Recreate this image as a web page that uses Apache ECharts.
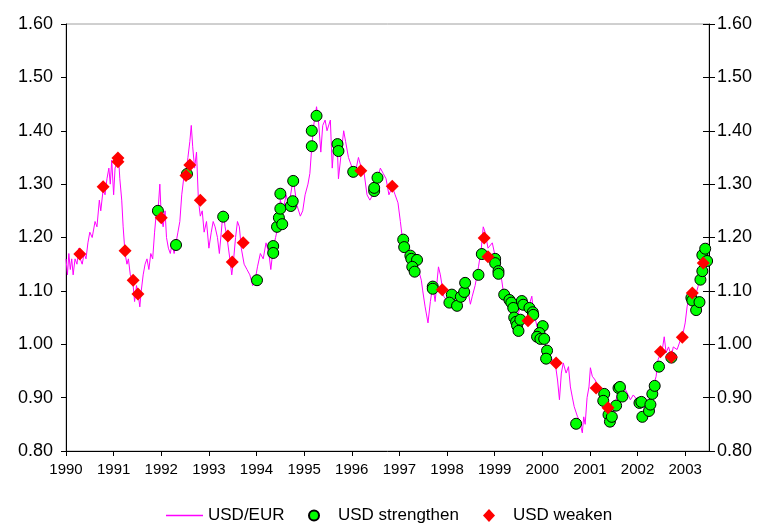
<!DOCTYPE html>
<html>
<head>
<meta charset="utf-8">
<script src="https://cdn.jsdelivr.net/npm/echarts@6/dist/echarts.min.js"></script>
<style>
html,body{margin:0;padding:0;background:#fff;}
#c{width:767px;height:525px;}
</style>
</head>
<body>
<div id="c"></div>
<script>
// USD/EUR exchange rate: [year, rate]
var usdEur = [
[1990.00,1.16],[1990.03,1.13],[1990.06,1.17],[1990.09,1.14],[1990.12,1.16],[1990.15,1.13],[1990.19,1.16],[1990.23,1.15],
[1990.27,1.18],[1990.30,1.16],[1990.34,1.15],[1990.38,1.17],[1990.42,1.16],[1990.46,1.19],[1990.50,1.21],[1990.55,1.20],
[1990.61,1.23],[1990.65,1.22],[1990.70,1.27],[1990.73,1.25],[1990.78,1.29],[1990.82,1.28],[1990.86,1.31],[1990.90,1.33],
[1990.93,1.30],[1990.96,1.345],[1991.00,1.28],[1991.03,1.33],[1991.07,1.34],[1991.10,1.355],[1991.13,1.31],[1991.17,1.27],
[1991.20,1.22],[1991.24,1.17],[1991.28,1.15],[1991.31,1.16],[1991.35,1.13],[1991.40,1.12],[1991.44,1.08],[1991.48,1.11],
[1991.52,1.09],[1991.55,1.07],[1991.58,1.10],[1991.62,1.13],[1991.66,1.15],[1991.70,1.16],[1991.74,1.14],[1991.78,1.17],
[1991.82,1.16],[1991.86,1.21],[1991.90,1.25],[1991.94,1.26],[1991.97,1.30],[1992.00,1.24],[1992.04,1.22],[1992.08,1.25],
[1992.11,1.20],[1992.15,1.18],[1992.19,1.17],[1992.23,1.19],[1992.27,1.17],[1992.31,1.19],[1992.35,1.21],[1992.39,1.23],
[1992.43,1.28],[1992.47,1.31],[1992.52,1.32],[1992.56,1.35],[1992.60,1.38],[1992.63,1.41],[1992.66,1.37],[1992.70,1.33],
[1992.74,1.36],[1992.78,1.27],[1992.82,1.24],[1992.86,1.25],[1992.90,1.21],[1992.95,1.23],[1993.00,1.18],[1993.05,1.21],
[1993.09,1.23],[1993.13,1.22],[1993.18,1.20],[1993.22,1.17],[1993.26,1.21],[1993.30,1.25],[1993.34,1.22],[1993.38,1.20],
[1993.44,1.16],[1993.48,1.13],[1993.52,1.16],[1993.56,1.20],[1993.60,1.23],[1993.64,1.22],[1993.68,1.18],[1993.74,1.15],
[1993.80,1.14],[1993.86,1.13],[1993.92,1.11],[1993.97,1.12],[1994.02,1.145],[1994.08,1.17],[1994.14,1.16],[1994.20,1.19],
[1994.26,1.17],[1994.30,1.14],[1994.35,1.18],[1994.40,1.20],[1994.45,1.22],[1994.50,1.27],[1994.56,1.25],[1994.62,1.28],
[1994.68,1.26],[1994.77,1.31],[1994.85,1.26],[1994.92,1.24],[1994.97,1.25],[1995.02,1.28],[1995.08,1.30],[1995.12,1.32],
[1995.16,1.37],[1995.20,1.41],[1995.26,1.445],[1995.30,1.42],[1995.35,1.36],[1995.39,1.41],[1995.44,1.42],[1995.48,1.40],
[1995.55,1.42],[1995.59,1.33],[1995.63,1.38],[1995.70,1.36],[1995.72,1.31],[1995.78,1.36],[1995.83,1.40],[1995.87,1.38],
[1995.93,1.35],[1996.01,1.33],[1996.07,1.32],[1996.14,1.35],[1996.20,1.33],[1996.26,1.32],[1996.32,1.28],[1996.38,1.27],
[1996.44,1.28],[1996.49,1.295],[1996.54,1.31],[1996.60,1.33],[1996.66,1.32],[1996.72,1.31],[1996.78,1.28],[1996.85,1.295],
[1996.91,1.28],[1996.97,1.265],[1997.02,1.23],[1997.06,1.20],[1997.12,1.18],[1997.19,1.17],[1997.28,1.16],[1997.34,1.15],
[1997.40,1.14],[1997.46,1.12],[1997.49,1.10],[1997.54,1.07],[1997.60,1.04],[1997.65,1.08],[1997.70,1.11],[1997.75,1.08],
[1997.82,1.145],[1997.86,1.13],[1997.93,1.09],[1998.01,1.08],[1998.09,1.10],[1998.15,1.09],[1998.24,1.08],[1998.30,1.09],
[1998.36,1.10],[1998.45,1.095],[1998.49,1.075],[1998.53,1.09],[1998.59,1.11],[1998.66,1.145],[1998.72,1.18],[1998.76,1.22],
[1998.80,1.21],[1998.86,1.18],[1998.95,1.19],[1999.01,1.165],[1999.08,1.14],[1999.14,1.125],[1999.18,1.10],[1999.26,1.09],
[1999.33,1.077],[1999.39,1.06],[1999.47,1.05],[1999.54,1.07],[1999.60,1.077],[1999.68,1.06],[1999.78,1.09],[1999.81,1.064],
[1999.89,1.033],[1999.96,1.021],[2000.02,1.018],[2000.08,0.995],[2000.13,0.984],[2000.21,0.971],[2000.27,0.965],[2000.32,0.933],
[2000.36,0.896],[2000.40,0.946],[2000.44,0.965],[2000.50,0.946],[2000.55,0.958],[2000.59,0.92],[2000.63,0.901],[2000.67,0.883],
[2000.74,0.864],[2000.78,0.858],[2000.84,0.834],[2000.87,0.864],[2000.90,0.85],[2000.94,0.90],[2000.98,0.92],[2001.01,0.956],
[2001.05,0.94],[2001.11,0.933],[2001.17,0.92],[2001.22,0.909],[2001.28,0.901],[2001.36,0.877],[2001.43,0.864],[2001.49,0.846],
[2001.55,0.896],[2001.60,0.915],[2001.68,0.927],[2001.72,0.929],[2001.78,0.909],[2001.85,0.896],[2001.91,0.905],[2001.99,0.896],
[2002.06,0.89],[2002.12,0.883],[2002.20,0.872],[2002.27,0.89],[2002.33,0.92],[2002.39,0.94],[2002.43,0.971],[2002.52,0.99],
[2002.56,1.014],[2002.60,0.984],[2002.65,0.995],[2002.71,0.977],[2002.75,0.995],[2002.83,0.99],[2002.90,1.008],[2002.94,1.014],
[2003.00,1.04],[2003.04,1.07],[2003.08,1.089],[2003.15,1.096],[2003.21,1.089],[2003.27,1.108],[2003.32,1.134],[2003.36,1.158],
[2003.40,1.182],[2003.46,1.19],[2003.49,1.177]
];

// USD strengthen events
var usdStrengthen = [
[1991.93,1.25],[1992.31,1.186],[1992.54,1.319],[1993.30,1.239],[1994.01,1.12],
[1994.35,1.184],[1994.35,1.171],[1994.43,1.22],[1994.47,1.237],[1994.54,1.225],[1994.50,1.254],[1994.50,1.282],
[1994.72,1.259],[1994.76,1.268],[1994.77,1.306],[1995.16,1.371],[1995.16,1.40],[1995.26,1.428],[1995.70,1.375],
[1995.72,1.362],[1996.03,1.323],[1996.47,1.287],[1996.47,1.293],[1996.54,1.312],[1997.08,1.196],[1997.10,1.182],
[1997.23,1.166],[1997.25,1.16],[1997.37,1.158],[1997.27,1.145],[1997.32,1.136],[1997.70,1.108],[1997.70,1.104],
[1998.10,1.093],[1998.05,1.078],[1998.21,1.072],[1998.29,1.089],[1998.36,1.098],[1998.38,1.115],[1998.66,1.13],
[1998.73,1.169],[1999.01,1.16],[1999.01,1.152],[1999.08,1.137],[1999.08,1.132],[1999.20,1.093],[1999.31,1.083],
[1999.35,1.078],[1999.39,1.068],[1999.57,1.081],[1999.60,1.074],[1999.73,1.068],[1999.80,1.06],[1999.81,1.055],
[1999.41,1.05],[1999.45,1.042],[1999.47,1.035],[1999.50,1.025],[1999.54,1.046],[2000.01,1.034],[1999.94,1.021],
[1999.89,1.014],[1999.96,1.01],[2000.04,1.01],[2000.10,0.988],[2000.08,0.973],[2000.71,0.851],[2001.30,0.907],
[2001.28,0.894],[2001.39,0.868],[2001.42,0.855],[2001.46,0.864],[2001.55,0.885],[2001.60,0.918],[2001.63,0.92],
[2001.68,0.902],[2002.04,0.89],[2002.08,0.892],[2002.10,0.864],[2002.24,0.875],[2002.27,0.887],[2002.31,0.907],
[2002.36,0.922],[2002.45,0.958],[2002.71,0.975],[2003.13,1.087],[2003.15,1.082],[2003.23,1.064],[2003.30,1.079],
[2003.32,1.121],[2003.36,1.137],[2003.36,1.167],[2003.42,1.179],[2003.46,1.156]
];

// USD weaken events
var usdWeaken = [
[1990.29,1.169],[1990.78,1.295],[1991.09,1.349],[1991.09,1.342],[1991.24,1.175],[1991.41,1.12],[1991.51,1.094],
[1992.00,1.237],[1992.52,1.316],[1992.60,1.336],[1992.82,1.27],[1993.40,1.203],[1993.49,1.154],[1993.72,1.19],
[1996.19,1.325],[1996.85,1.296],[1997.90,1.102],[1998.78,1.199],[1998.86,1.164],[1999.70,1.044],[2000.29,0.965],
[2001.13,0.918],[2001.38,0.881],[2002.48,0.986],[2002.71,0.976],[2002.94,1.013],[2003.15,1.096],[2003.38,1.152]
];

var seriesNames = ['USD/EUR','USD strengthen','USD weaken'];
var yearStart = 1990, yearEnd = 2003.5;
var yMin = 0.8, yMax = 1.6, yStep = 0.1;

var FONT = 'Liberation Sans, Arial, sans-serif';
var chart = echarts.init(document.getElementById('c'), null, {renderer:'canvas'});
var yLab = {fontFamily:FONT, fontSize:18, color:'#000', formatter:function(v){return v.toFixed(2);}};
var legText = {fontFamily:FONT, fontSize:17, color:'#000'};
chart.setOption({
  animation:false,
  backgroundColor:'#fff',
  textStyle:{fontFamily:FONT},
  grid:{left:66, right:58, top:24, bottom:74, show:true, borderColor:'#a0a0a0', borderWidth:1, backgroundColor:'transparent'},
  legend:[
    {data:[{name:seriesNames[0], icon:'rect'}], left:161, top:502, itemWidth:37, itemHeight:1.5, textStyle:legText},
    {data:[{name:seriesNames[1], icon:'circle'}], left:303, top:502, itemWidth:10, itemHeight:10,
      textStyle:Object.assign({padding:[0,0,0,14]}, legText)},
    {data:[{name:seriesNames[2], icon:'diamond'}], left:478, top:502, itemWidth:12, itemHeight:13,
      textStyle:Object.assign({padding:[0,0,0,13]}, legText)}
  ],
  xAxis:{type:'value', min:yearStart, max:yearEnd, interval:1,
    axisLine:{show:true, lineStyle:{color:'#000', width:1}},
    axisTick:{show:true, length:5, lineStyle:{color:'#000'}},
    splitLine:{show:false},
    axisLabel:{fontFamily:FONT, fontSize:15, color:'#000', margin:11, showMaxLabel:false,
      formatter:function(v){return Math.abs(v-Math.round(v))<1e-6 ? String(Math.round(v)) : '';}}
  },
  yAxis:[
    {type:'value', min:yMin, max:yMax, interval:yStep, position:'left',
      axisLine:{show:true, lineStyle:{color:'#000'}}, axisTick:{show:true, length:5, lineStyle:{color:'#000'}},
      splitLine:{show:false}, axisLabel:Object.assign({margin:13}, yLab)},
    {type:'value', min:yMin, max:yMax, interval:yStep, position:'right',
      axisLine:{show:true, lineStyle:{color:'#000'}}, axisTick:{show:true, length:6, lineStyle:{color:'#000'}},
      splitLine:{show:false}, axisLabel:Object.assign({margin:8}, yLab)},
    {type:'value', min:yMin, max:yMax, interval:yStep, position:'right',
      axisLine:{show:false}, axisTick:{show:true, inside:true, length:6, lineStyle:{color:'#000'}},
      splitLine:{show:false}, axisLabel:{show:false}}
  ],
  series:[
    {name:seriesNames[0], type:'line', data:usdEur, symbol:'none', showSymbol:false,
      lineStyle:{color:'#ff00ff', width:1}, itemStyle:{color:'#ff00ff'}, z:2},
    {name:seriesNames[1], type:'scatter', data:usdStrengthen, symbol:'circle', symbolSize:11,
      itemStyle:{color:'#00ff00', borderColor:'#000', borderWidth:1, opacity:1}, z:3},
    {name:seriesNames[2], type:'scatter', data:usdWeaken, symbol:'diamond', symbolSize:13,
      itemStyle:{color:'#ff0000', opacity:1}, z:4}
  ]
});
</script>
</body>
</html>
